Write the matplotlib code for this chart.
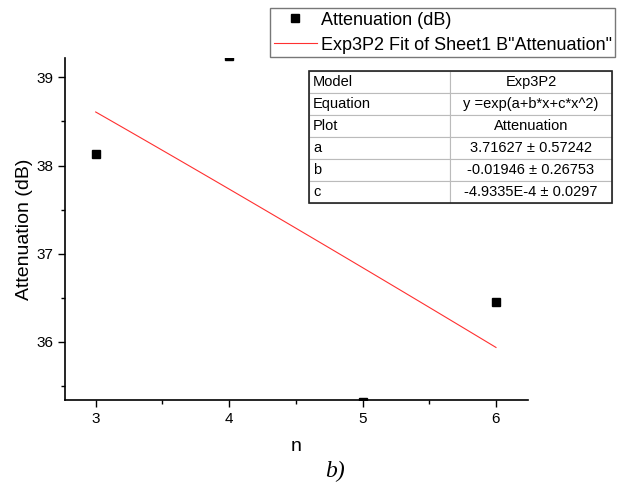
import matplotlib.pyplot as plt
import numpy as np
from matplotlib.patches import Rectangle

plt.rcParams['font.family'] = ['Liberation Sans', 'DejaVu Sans']

# Data
n = [3, 4, 5, 6]
attenuation = [38.135, 39.24, 35.32, 36.45]

# Exp3P2 fit parameters, y = exp(a + b*x + c*x^2)
a, b, c = 3.71627, -0.01946, -4.9335e-4
fit_x = np.linspace(3, 6, 100)
fit_y = np.exp(a + b * fit_x + c * fit_x ** 2)

table_rows = [
    ["Model", "Exp3P2"],
    ["Equation", "y =exp(a+b*x+c*x^2)"],
    ["Plot", "Attenuation"],
    ["a", "3.71627 \u00b1 0.57242"],
    ["b", "-0.01946 \u00b1 0.26753"],
    ["c", "-4.9335E-4 \u00b1 0.0297"],
]

fig = plt.figure(figsize=(6.21, 4.91), dpi=100)
ax = fig.add_axes([65 / 621, 1 - 400 / 491, (528 - 65) / 621, (400 - 58) / 491])

ax.plot(n, attenuation, 's', color='black', markersize=6, label='Attenuation (dB)')
ax.plot(fit_x, fit_y, '-', color='#ff3030', lw=0.8,
        label='Exp3P2 Fit of Sheet1 B"Attenuation"')

ax.set_xlim(2.77, 6.24)
ax.set_ylim(35.34, 39.22)
ax.set_xticks([3, 4, 5, 6])
ax.set_xticks([3.5, 4.5, 5.5], minor=True)
ax.set_yticks([36, 37, 38, 39])
ax.set_yticks([35.5, 36.5, 37.5, 38.5], minor=True)
ax.tick_params(which='major', length=5, width=1, labelsize=11, direction='out')
ax.tick_params(which='minor', length=3, width=1, direction='out')
for side in ['top', 'right']:
    ax.spines[side].set_visible(False)
for side in ['left', 'bottom']:
    ax.spines[side].set_linewidth(1.2)

ax.set_xlabel('n', fontsize=14, labelpad=9)
ax.set_ylabel('Attenuation (dB)', fontsize=14, labelpad=2)

# Legend
leg = fig.legend(loc='upper left', bbox_to_anchor=(270 / 621, 1 - 8 / 491),
                 fontsize=13, frameon=True, fancybox=False, borderpad=0.2,
                 handlelength=2.4, handletextpad=0.2, labelspacing=0.45,
                 borderaxespad=0)
leg.get_frame().set_edgecolor('#555555')
leg.get_frame().set_linewidth(1.0)

# Fit results table
tax = fig.add_axes([309 / 621, 1 - 203 / 491, (612 - 309) / 621, (203 - 71) / 491])
tax.axis('off')
tbl = tax.table(cellText=table_rows, colWidths=[0.465, 0.535], bbox=[0, 0, 1, 1],
                cellLoc='center')
tbl.auto_set_font_size(False)
for (r, col), cell in tbl.get_celld().items():
    cell.set_edgecolor('#bbbbbb')
    cell.set_linewidth(0.8)
    cell.set_text_props(fontsize=10.5)
    if col == 0:
        cell.set_text_props(ha='left')
        cell._loc = 'left'
        cell.PAD = 0.03
tax.add_patch(Rectangle((0, 0), 1, 1, fill=False, edgecolor='#222222', lw=1.2,
                        transform=tax.transAxes, clip_on=False))

fig.text(335 / 621, 1 - 471 / 491, 'b)', fontsize=17, style='italic',
         family='Liberation Serif', ha='center', va='center')

fig.savefig('out.png', dpi=100)
